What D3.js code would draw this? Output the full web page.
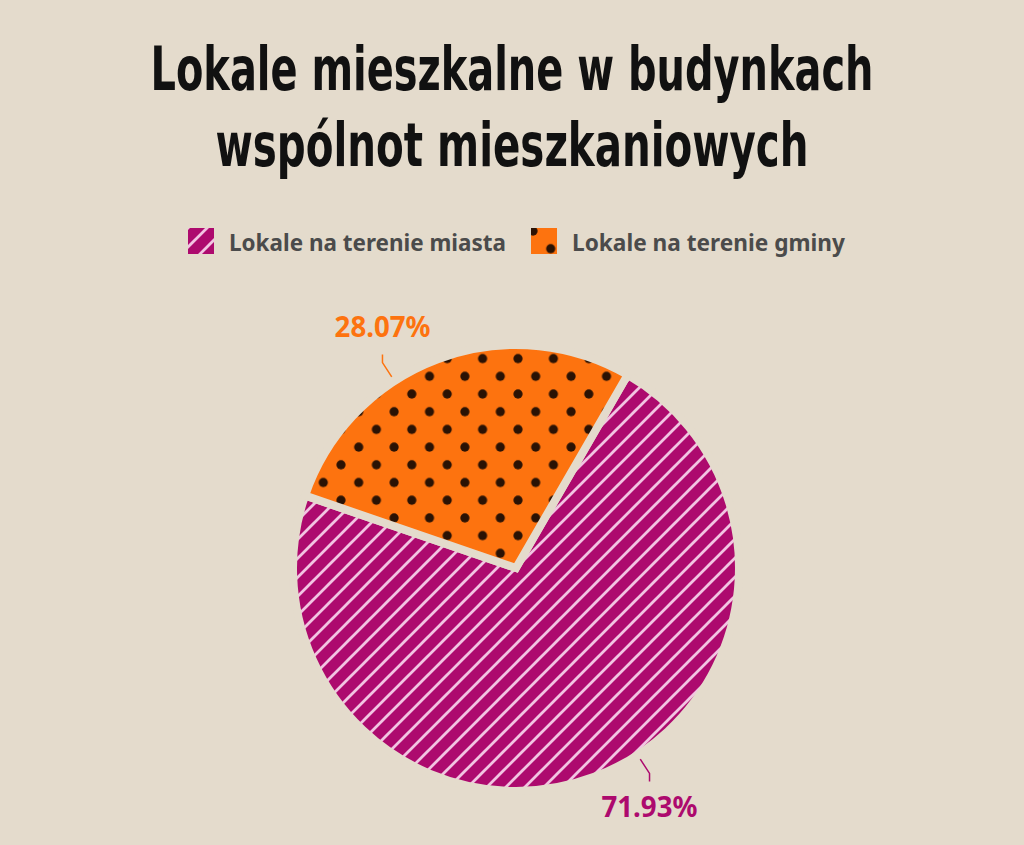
<!DOCTYPE html>
<html>
<head>
<meta charset="utf-8">
<script src="https://cdn.jsdelivr.net/npm/d3@7"></script>
<style>
  html, body { margin: 0; padding: 0; background: #e4dbcc; }
  svg { display: block; }
</style>
</head>
<body>
<svg id="chart"></svg>
<script>
// Data
const titleLines = ['Lokale mieszkalne w budynkach', 'wspólnot mieszkaniowych'];
const categories = ['Lokale na terenie miasta', 'Lokale na terenie gminy'];
const shares = [71.93, 28.07];
const colors = ['#ad0a6e', '#fd730f'];
const patterns = ['stripes', 'dots'];

// Setup
const width = 1024,
      height = 845,
      bg = '#e4dbcc';

const svg = d3.select('#chart')
  .attr('width', width)
  .attr('height', height);

svg.append('rect')
  .attr('width', width)
  .attr('height', height)
  .attr('fill', bg);

const defs = svg.append('defs');

// stripes pattern
const st = 19;
const stripe = defs.append('pattern')
  .attr('id', 'stripes')
  .attr('patternUnits', 'userSpaceOnUse')
  .attr('width', st)
  .attr('height', st);
stripe.append('rect').attr('width', st).attr('height', st).attr('fill', colors[0]);
stripe.append('path')
  .attr('d', `M0 ${st} L${st} 0 M-3 3 L3 -3 M${st - 3} ${st + 3} L${st + 3} ${st - 3}`)
  .attr('stroke', '#f2c4e2')
  .attr('stroke-width', 2.8);

// dots pattern
const dt = 35.4;
const dot = defs.append('pattern')
  .attr('id', 'dots')
  .attr('patternUnits', 'userSpaceOnUse')
  .attr('x', 2)
  .attr('y', 3)
  .attr('width', dt)
  .attr('height', dt);
dot.append('rect').attr('width', dt).attr('height', dt).attr('fill', colors[1]);
[[0, 0], [dt, 0], [0, dt], [dt, dt], [dt / 2, dt / 2]].forEach(p => {
  dot.append('circle')
    .attr('cx', p[0]).attr('cy', p[1]).attr('r', 4.6)
    .attr('fill', '#2a1204');
});

// Title
svg.append('g')
  .selectAll('text')
  .data(titleLines)
  .enter().append('text')
  .attr('x', width / 2)
  .attr('y', (d, i) => 90 + i * 76)
  .attr('text-anchor', 'middle')
  .attr('textLength', (d, i) => i === 0 ? 723 : 593)
  .attr('lengthAdjust', 'spacingAndGlyphs')
  .style('font-family', "'Liberation Sans Narrow', 'DejaVu Sans Condensed', sans-serif")
  .style('font-weight', 'bold')
  .style('font-size', '60px')
  .attr('fill', '#111')
  .text(d => d);

// Legend
const legendX = [188, 531];
const legend = svg.append('g')
  .selectAll('g')
  .data(categories)
  .enter().append('g')
  .attr('transform', (d, i) => `translate(${legendX[i]}, 228)`);

legend.append('rect')
  .attr('width', 26)
  .attr('height', 26)
  .attr('fill', (d, i) => `url(#${patterns[i]})`);

legend.append('text')
  .attr('x', 41)
  .attr('y', 23)
  .attr('textLength', (d, i) => i === 0 ? 277 : 273)
  .attr('lengthAdjust', 'spacingAndGlyphs')
  .style('font-family', "'Noto Sans', sans-serif")
  .style('font-weight', 'bold')
  .style('font-size', '24px')
  .attr('fill', '#4b4b4b')
  .text(d => d);

// Pie
const cx = 516, cy = 568, radius = 223;
const toRad = Math.PI / 180;

const pie = d3.pie()
  .sort(null)
  .startAngle(30 * toRad)
  .endAngle(390 * toRad);

const arc = d3.arc()
  .innerRadius(0)
  .outerRadius(radius);

const slices = pie(shares);

const g = svg.append('g')
  .attr('transform', `translate(${cx}, ${cy})`);

g.selectAll('path')
  .data(slices)
  .enter().append('path')
  .attr('d', arc)
  .attr('fill', (d, i) => `url(#${patterns[i]})`)
  .attr('stroke', bg)
  .attr('stroke-width', 8)
  .attr('stroke-linejoin', 'miter');

// Labels with connectors
const polar = (r, a) => [r * Math.sin(a), -r * Math.cos(a)];
const labelAngle = d => (d.startAngle + d.endAngle) / 2 - 8.5 * toRad;
const connAngle = d => (d.startAngle + d.endAngle) / 2 - 12.5 * toRad;

g.selectAll('.connector')
  .data(slices)
  .enter().append('path')
  .attr('class', 'connector')
  .attr('d', d => {
    const a = connAngle(d);
    const p0 = polar(radius + 5, a),
          p1 = polar(radius + 22, a);
    const up = Math.cos(a) > 0 ? -1 : 1;
    return d3.line()([p0, p1, [p1[0], p1[1] + up * 8]]);
  })
  .attr('fill', 'none')
  .attr('stroke', (d, i) => colors[i])
  .attr('stroke-width', 1.5);

g.selectAll('.label')
  .data(slices)
  .enter().append('text')
  .attr('class', 'label')
  .attr('x', d => polar(275, labelAngle(d))[0])
  .attr('y', d => polar(275, labelAngle(d))[1] + 9)
  .attr('text-anchor', 'middle')
  .attr('textLength', 96)
  .attr('lengthAdjust', 'spacingAndGlyphs')
  .style('font-family', "'Noto Sans', sans-serif")
  .style('font-weight', 'bold')
  .style('font-size', '28px')
  .attr('fill', (d, i) => colors[i])
  .text(d => d.data.toFixed(2) + '%');
</script>
</body>
</html>
